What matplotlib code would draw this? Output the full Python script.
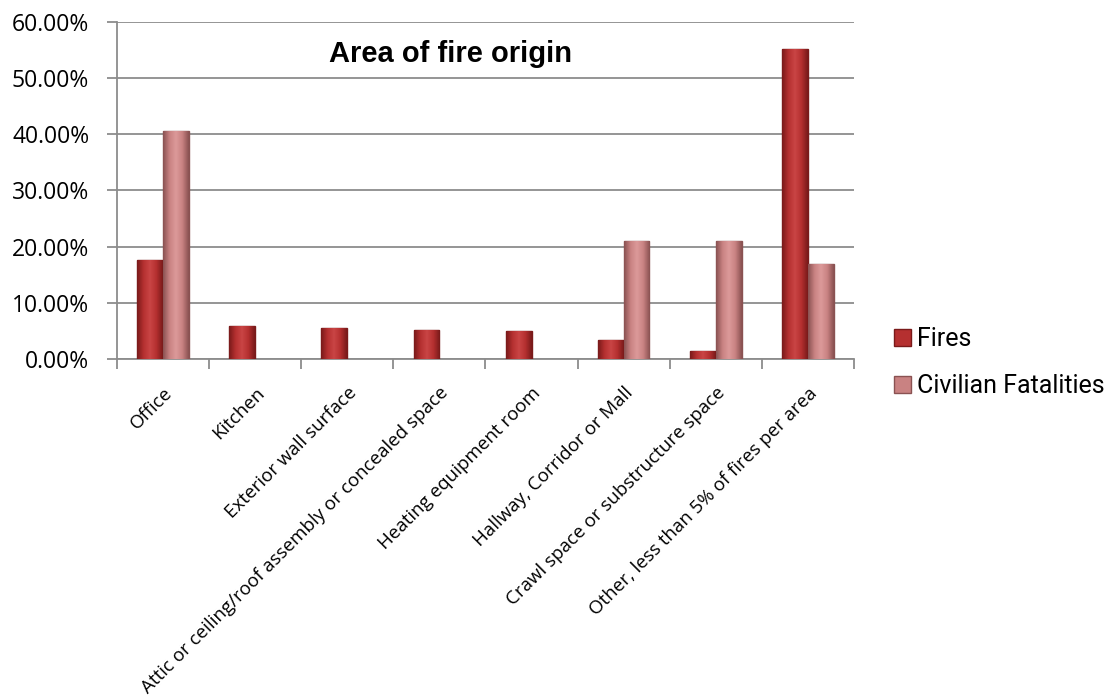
import matplotlib.pyplot as plt
import numpy as np
from matplotlib.colors import LinearSegmentedColormap

# Data: share of fires and civilian fatalities by area of fire origin
areas = [
    'Office',
    'Kitchen',
    'Exterior wall surface',
    'Attic or ceiling/roof assembly or concealed space',
    'Heating equipment room',
    'Hallway, Corridor or Mall',
    'Crawl space or substructure space',
    'Other, less than 5% of fires per area',
]
fires = [17.6, 5.9, 5.5, 5.1, 5.0, 3.4, 1.5, 55.2]
fatalities = [40.6, 0.0, 0.0, 0.0, 0.0, 21.0, 21.0, 16.9]
y_ticks = [0, 10, 20, 30, 40, 50, 60]

grey = '#8c8c8c'

fig = plt.figure(figsize=(11.09, 6.98), dpi=100)
ax = fig.add_axes([0.1055, 0.4857, 0.6645, 0.4828])

x = np.arange(len(areas))
w = 0.28


def shaded_bars(xpos, vals, dark, mid, light, label):
    # plain bars for the legend, then a horizontal gradient clipped to each bar
    keep = [i for i, v in enumerate(vals) if v > 0]
    bars = ax.bar(xpos[keep], np.asarray(vals)[keep], w, color=mid,
                  edgecolor=dark, linewidth=1.0, label=label, zorder=3)
    cmap = LinearSegmentedColormap.from_list('shade', [dark, mid, light, mid, dark])
    grad = np.linspace(0, 1, 64).reshape(1, -1)
    for b in bars:
        x0, y0 = b.get_x(), b.get_y()
        im = ax.imshow(grad, cmap=cmap, aspect='auto', zorder=3.5,
                       extent=[x0, x0 + b.get_width(), y0, y0 + b.get_height()])
        im.set_clip_path(b)
    return bars


shaded_bars(x - w / 2, fires, '#7a1a1a', '#b53030', '#c94545', 'Fires')
shaded_bars(x + w / 2, fatalities, '#8a5252', '#c98282', '#dc9a9a', 'Civilian Fatalities')

ax.set_xlim(-0.5, len(areas) - 0.5)
ax.set_ylim(0, 60)
ax.set_yticks(y_ticks)
ax.set_yticklabels([f'{v:.2f}%' for v in y_ticks], fontsize=16.5,
                   family='Open Sans')

# category boundaries carry the tick marks, category centres carry the labels
ax.set_xticks(np.arange(len(areas) + 1) - 0.5)
ax.set_xticklabels([])
ax.set_xticks(x, minor=True)
ax.set_xticklabels(areas, minor=True, rotation=45, ha='right',
                   rotation_mode='anchor', fontsize=13.5, family='Open Sans')
ax.tick_params(axis='x', which='minor', length=0, pad=18)
ax.tick_params(axis='x', which='major', length=7, color=grey, width=1.3)
ax.tick_params(axis='y', length=7, color=grey, width=1.3, pad=13)

ax.grid(axis='y', color=grey, linewidth=1.3, zorder=0)
ax.set_axisbelow(True)
for s in ['top', 'right']:
    ax.spines[s].set_visible(False)
for s in ['left', 'bottom']:
    ax.spines[s].set_color(grey)
    ax.spines[s].set_linewidth(1.3)

ax.text(0.453, 0.905, 'Area of fire origin', transform=ax.transAxes,
        ha='center', va='center', fontsize=21, fontweight='bold',
        family='Liberation Sans', zorder=5)

fig.legend(loc='upper left', bbox_to_anchor=(0.806, 0.531), frameon=False,
           prop={'family': 'Roboto', 'size': 18}, handlelength=0.68,
           handleheight=0.68, handletextpad=0.24, labelspacing=0.9,
           borderpad=0, borderaxespad=0)

fig.savefig('out.png', dpi=100)
